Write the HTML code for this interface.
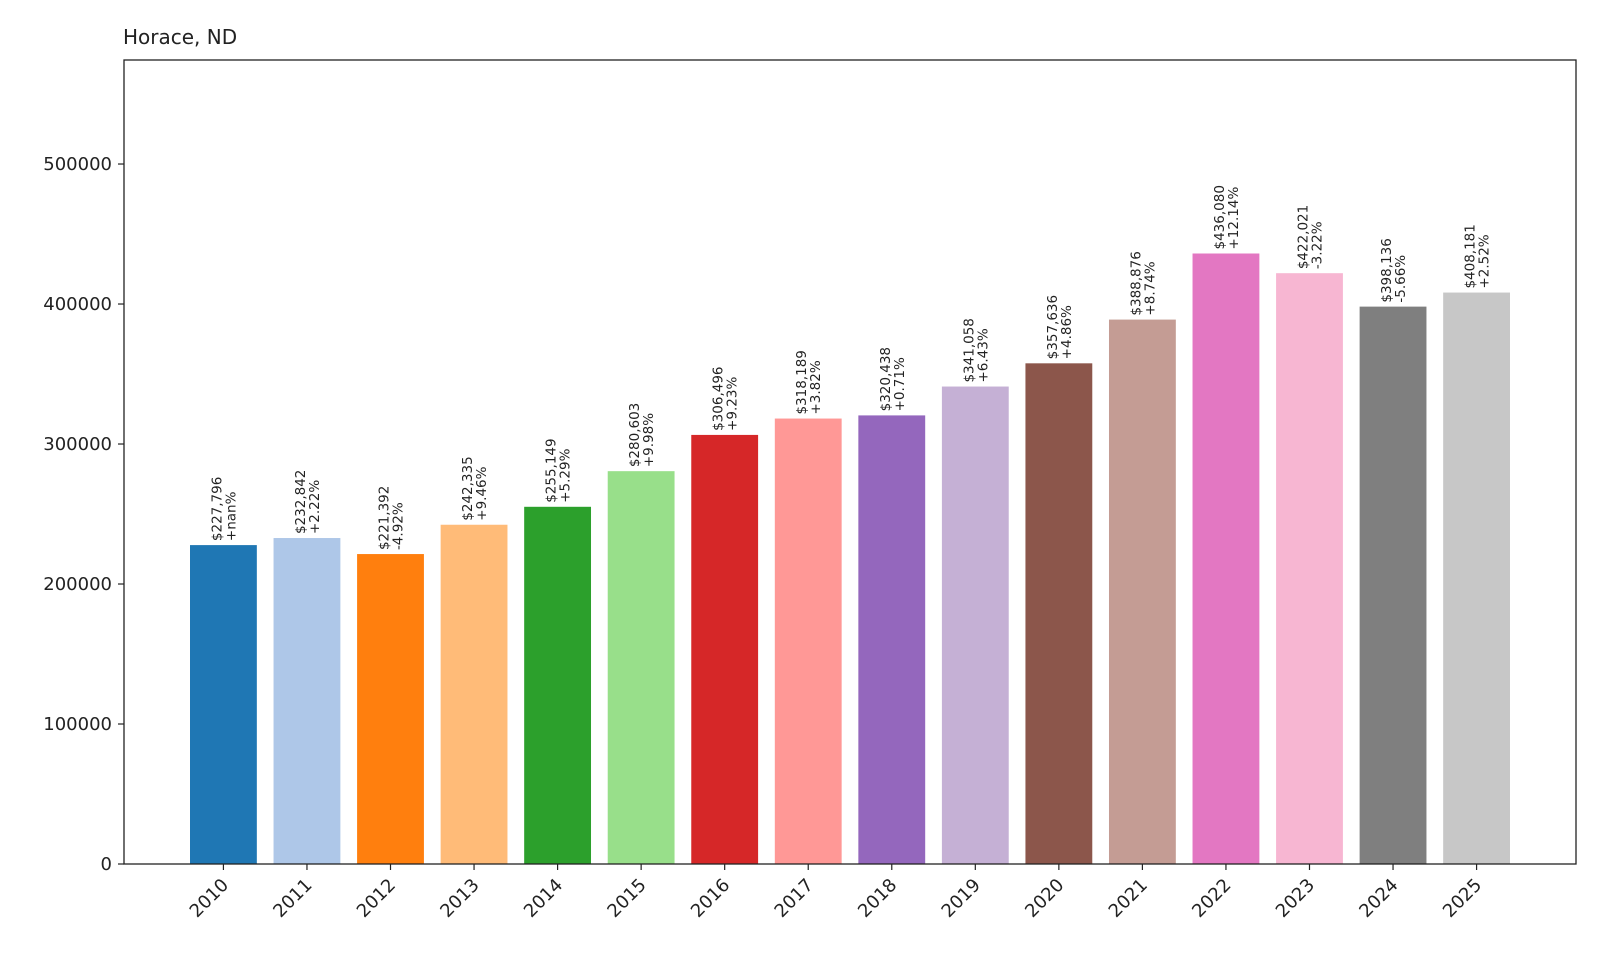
<!DOCTYPE html>
<html><head><meta charset="utf-8"><style>
html,body{margin:0;padding:0;background:#fff;}
svg text{font-family:"DejaVu Sans","Liberation Sans",sans-serif;fill:#222;}
</style></head><body>
<svg id="chart" width="1600" height="960" xmlns="http://www.w3.org/2000/svg">
<text x="123" y="44" font-size="20">Horace, ND</text>
<g id="bars"></g>
<g id="axes"></g>
</svg>
<script>
const years = ["2010","2011","2012","2013","2014","2015","2016","2017","2018","2019","2020","2021","2022","2023","2024","2025"];
const values = [227796,232842,221392,242335,255149,280603,306496,318189,320438,341058,357636,388876,436080,422021,398136,408181];
const changes = ["+nan%","+2.22%","-4.92%","+9.46%","+5.29%","+9.98%","+9.23%","+3.82%","+0.71%","+6.43%","+4.86%","+8.74%","+12.14%","-3.22%","-5.66%","+2.52%"];
const yTicks = [0,100000,200000,300000,400000,500000];
const colors = ["#1f77b4","#aec7e8","#ff7f0e","#ffbb78","#2ca02c","#98df8a","#d62728","#ff9896","#9467bd","#c5b0d5","#8c564b","#c49c94","#e377c2","#f7b6d2","#7f7f7f","#c7c7c7"];

const L=124,R=1576,T=60,B=864,YMAX=574300;
const xmin=-1.19,xmax=years.length-1+1.19;
const xs=i=>L+(i-xmin)/(xmax-xmin)*(R-L);
const ys=v=>B-v/YMAX*(B-T);
const step=xs(1)-xs(0), bw=step*0.8;
const NS="http://www.w3.org/2000/svg";
function mk(t,a){const e=document.createElementNS(NS,t);for(const k in a)e.setAttribute(k,a[k]);return e;}
const gb=document.getElementById('bars'), ga=document.getElementById('axes');
values.forEach((v,i)=>{
  const cx=xs(i);
  const r=mk('rect',{x:cx-bw/2,y:ys(v),width:bw,height:B-ys(v),fill:colors[i]});
  
  
  gb.appendChild(r);
  const t=mk('text',{transform:`translate(${cx},${ys(v)-4}) rotate(-90)`,'font-size':13.5});
  
  
  const t1=mk('tspan',{x:0,y:-2});t1.textContent='$'+v.toLocaleString('en-US');
  const t2=mk('tspan',{x:0,y:12});t2.textContent=changes[i];
  t.appendChild(t1);t.appendChild(t2);gb.appendChild(t);
  const tk=mk('line',{x1:cx,x2:cx,y1:B,y2:B+6,stroke:'#222','stroke-width':1.2});
  ga.appendChild(tk);
  const lb=mk('text',{transform:`translate(${cx+6},${B+22}) rotate(-45)`,'font-size':18,'text-anchor':'end'});
  
  
  lb.textContent=years[i];ga.appendChild(lb);
});
yTicks.forEach(v=>{
  const y=ys(v);
  ga.appendChild(mk('line',{x1:L-6,x2:L,y1:y,y2:y,stroke:'#222','stroke-width':1.2}));
  const lb=mk('text',{x:L-12,y:y+6,'font-size':18,'text-anchor':'end'});
  
  
  lb.textContent=v;ga.appendChild(lb);
});
const frame=mk('rect',{x:L,y:T,width:R-L,height:B-T,fill:'none',stroke:'#222','stroke-width':1.3});


ga.appendChild(frame);
</script>
</body></html>
